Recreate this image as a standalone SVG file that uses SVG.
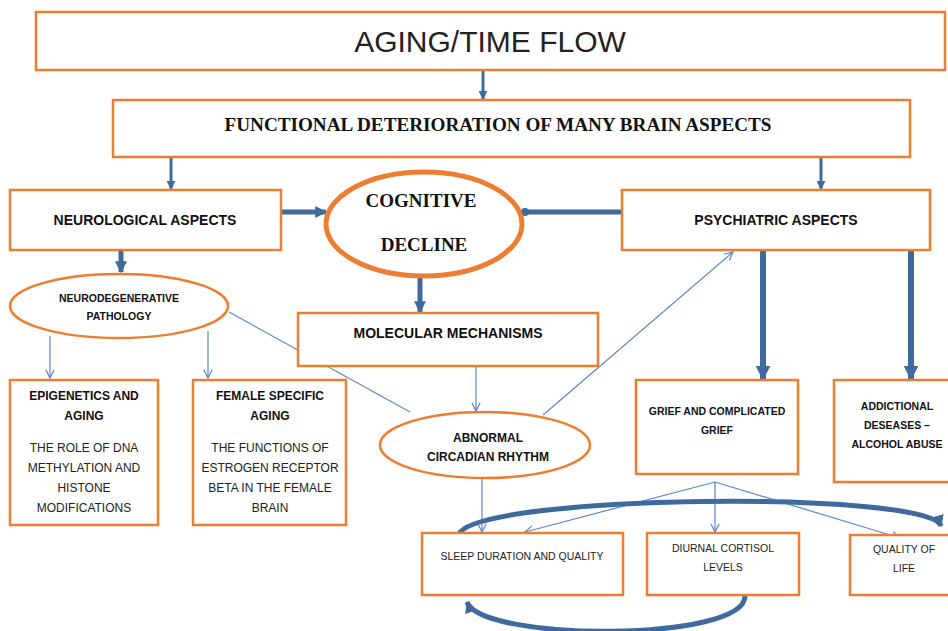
<svg xmlns="http://www.w3.org/2000/svg" width="948" height="631" viewBox="0 0 948 631">
<style>
.box{fill:#fff;stroke:#ED7D31;stroke-width:2.5}
.ell{fill:#fff;stroke:#ED7D31;stroke-width:2.5}
.t{font-family:"Liberation Sans Narrow","Liberation Sans",Arial,sans-serif;font-weight:bold;fill:#111;text-anchor:middle}
.n{font-family:"Liberation Sans Narrow","Liberation Sans",Arial,sans-serif;fill:#222;text-anchor:middle}
.s{font-family:"Liberation Serif","Times New Roman",serif;font-weight:bold;fill:#111;text-anchor:middle}
.thick{stroke:#3E6A9E;fill:none}
.thin{stroke:#5B86C8;stroke-width:1.2;fill:none}
</style>
<defs>
<marker id="ah" viewBox="0 0 10 10" refX="9" refY="5" markerWidth="3" markerHeight="3" orient="auto" markerUnits="strokeWidth"><path d="M0,0 L10,5 L0,10 z" fill="#3E6A9E"/></marker>
<marker id="ah2" viewBox="0 0 10 10" refX="9" refY="5" markerWidth="2.4" markerHeight="2.4" orient="auto" markerUnits="strokeWidth"><path d="M0,0 L10,5 L0,10 z" fill="#3E6A9E"/></marker>
<marker id="dot" viewBox="0 0 10 10" refX="5" refY="5" markerWidth="1.6" markerHeight="1.6" orient="auto" markerUnits="strokeWidth"><circle cx="5" cy="5" r="5" fill="#3E6A9E"/></marker>
<marker id="open" viewBox="0 0 12 12" refX="11" refY="6" markerWidth="10" markerHeight="10" orient="auto" markerUnits="userSpaceOnUse"><path d="M1,1 L11,6 L1,11" fill="none" stroke="#5B86C8" stroke-width="1.5"/></marker>
</defs>

<g id="connectors">
<line class="thick" x1="483" y1="66" x2="483" y2="99" stroke-width="3" marker-end="url(#ah)"/>
<line class="thick" x1="171" y1="156" x2="171" y2="189" stroke-width="3" marker-end="url(#ah)"/>
<line class="thick" x1="821" y1="153" x2="821" y2="189" stroke-width="3" marker-end="url(#ah)"/>
<line class="thick" x1="282" y1="212" x2="326" y2="212" stroke-width="5" marker-end="url(#ah2)"/>
<line class="thick" x1="621" y1="212" x2="525" y2="212" stroke-width="5" marker-end="url(#dot)"/>
<line class="thick" x1="121" y1="251" x2="121" y2="272" stroke-width="5" marker-end="url(#ah2)"/>
<line class="thick" x1="420" y1="277" x2="420" y2="312" stroke-width="5" marker-end="url(#ah2)"/>
<line class="thick" x1="763" y1="251" x2="763" y2="379" stroke-width="6" marker-end="url(#ah2)"/>
<line class="thick" x1="911" y1="251" x2="911" y2="379" stroke-width="6" marker-end="url(#ah2)"/>
<line class="thin" x1="50" y1="336" x2="50" y2="378" marker-end="url(#open)"/>
<line class="thin" x1="208" y1="331" x2="208" y2="378" marker-end="url(#open)"/>
<line class="thin" x1="229" y1="312" x2="410" y2="412"/>
<line class="thin" x1="476" y1="366" x2="476" y2="411" marker-end="url(#open)"/>
<line class="thin" x1="543" y1="415" x2="733" y2="252" marker-end="url(#open)"/>
<line class="thin" x1="482" y1="478" x2="482" y2="532" marker-end="url(#open)"/>
<line class="thin" x1="715" y1="482" x2="525" y2="532" marker-end="url(#open)"/>
<line class="thin" x1="715" y1="482" x2="715" y2="532" marker-end="url(#open)"/>
<line class="thin" x1="715" y1="482" x2="900" y2="538" marker-end="url(#open)"/>
<path class="thick" d="M 459 534 C 478 494, 930 490, 941 526" stroke-width="5" marker-end="url(#ah2)"/>
<path class="thick" d="M 745 596 C 745 642, 482 642, 467 602" stroke-width="5" marker-end="url(#ah2)"/>
</g>

<g id="aging"><rect class="box" x="36" y="12" width="909" height="58"/><text class="n" x="490" y="52" font-size="30" fill="#000">AGING/TIME FLOW</text></g>
<g id="functional"><rect class="box" x="113" y="100" width="797" height="57"/><text class="s" x="498" y="131" font-size="19" textLength="547" lengthAdjust="spacingAndGlyphs">FUNCTIONAL DETERIORATION OF MANY BRAIN ASPECTS</text></g>
<g id="neurological"><rect class="box" x="10" y="190" width="271" height="60"/><text class="t" x="145" y="225" font-size="14">NEUROLOGICAL ASPECTS</text></g>
<g id="cognitive"><ellipse cx="424" cy="224" rx="98" ry="52" fill="#fff" stroke="#ED7D31" stroke-width="5"/><text class="s" x="421" y="207" font-size="19">COGNITIVE</text><text class="s" x="424" y="251" font-size="19">DECLINE</text></g>
<g id="psychiatric"><rect class="box" x="622" y="190" width="308" height="60"/><text class="t" x="776" y="225" font-size="14">PSYCHIATRIC ASPECTS</text></g>
<g id="neurodegenerative"><ellipse class="ell" cx="119" cy="306" rx="109" ry="32"/><text class="t" x="119" y="302" font-size="10.5">NEURODEGENERATIVE</text><text class="t" x="119" y="320" font-size="10.5">PATHOLOGY</text></g>
<g id="molecular"><rect class="box" x="298" y="313" width="300" height="53"/><text class="t" x="448" y="338" font-size="14">MOLECULAR MECHANISMS</text></g>
<g id="epigenetics"><rect class="box" x="10" y="380" width="148" height="145"/>
<text class="t" x="84" y="400" font-size="12">EPIGENETICS AND</text><text class="t" x="84" y="420" font-size="12">AGING</text>
<text class="n" x="84" y="452" font-size="12">THE ROLE OF DNA</text><text class="n" x="84" y="472" font-size="12">METHYLATION AND</text><text class="n" x="84" y="492" font-size="12">HISTONE</text><text class="n" x="84" y="512" font-size="12">MODIFICATIONS</text></g>
<g id="female"><rect class="box" x="193" y="380" width="153" height="145"/>
<text class="t" x="270" y="400" font-size="12">FEMALE SPECIFIC</text><text class="t" x="270" y="420" font-size="12">AGING</text>
<text class="n" x="270" y="452" font-size="12">THE FUNCTIONS OF</text><text class="n" x="270" y="472" font-size="12">ESTROGEN RECEPTOR</text><text class="n" x="270" y="492" font-size="12">BETA IN THE FEMALE</text><text class="n" x="270" y="512" font-size="12">BRAIN</text></g>
<g id="abnormal"><ellipse class="ell" cx="485" cy="445" rx="105" ry="33"/><text class="t" x="488" y="442" font-size="12">ABNORMAL</text><text class="t" x="488" y="461" font-size="12">CIRCADIAN RHYTHM</text></g>
<g id="grief"><rect class="box" x="636" y="380" width="162" height="94"/><text class="t" x="717" y="415" font-size="10.5">GRIEF AND COMPLICATED</text><text class="t" x="717" y="434" font-size="10.5">GRIEF</text></g>
<g id="addictional"><rect class="box" x="834" y="380" width="116" height="102"/><text class="t" x="897" y="410" font-size="10.5">ADDICTIONAL</text><text class="t" x="897" y="429" font-size="10.5">DESEASES –</text><text class="t" x="897" y="448" font-size="10.5">ALCOHOL ABUSE</text></g>
<g id="sleep"><rect class="box" x="422" y="533" width="201" height="62"/><text class="n" x="522" y="560" font-size="10.5" fill="#111">SLEEP DURATION AND QUALITY</text></g>
<g id="diurnal"><rect class="box" x="647" y="533" width="152" height="62"/><text class="n" x="723" y="552" font-size="10.5" fill="#111">DIURNAL CORTISOL</text><text class="n" x="723" y="571" font-size="10.5" fill="#111">LEVELS</text></g>
<g id="quality"><rect class="box" x="850" y="535" width="100" height="60"/><text class="n" x="904" y="553" font-size="10.5" fill="#111">QUALITY OF</text><text class="n" x="904" y="572" font-size="10.5" fill="#111">LIFE</text></g>
</svg>
